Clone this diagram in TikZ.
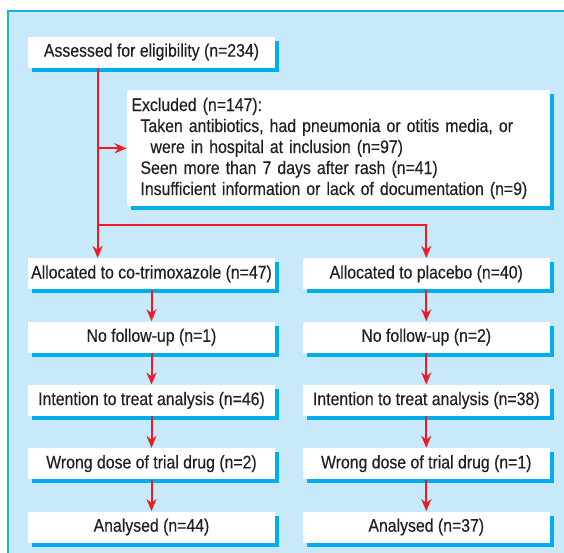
\documentclass[tikz,border=0pt]{standalone}
\usepackage{fontspec}
\setmainfont{Liberation Sans}[FakeStretch=0.87, FakeBold=0.3]
\usepackage{tikz}
\usetikzlibrary{arrows.meta, positioning, shadows, calc}
\usepackage{xcolor}
\definecolor{panelblue}{HTML}{C7E9F9}
\definecolor{edgecyan}{HTML}{1AAFE6}
\definecolor{shadecyan}{HTML}{00AEEF}
\definecolor{arrowred}{HTML}{ED1C24}
\definecolor{inkblack}{HTML}{231F20}

\begin{document}
\begin{tikzpicture}[
        x=1pt, y=1pt,
        font=\fontsize{9.1}{10.5}\selectfont,
        box/.style={rectangle, fill=white, text=inkblack, minimum width=123.5pt, minimum height=15.5pt, inner sep=0pt,
            drop shadow={shadow xshift=2pt, shadow yshift=-2pt, fill=shadecyan, opacity=1}},
        exclbox/.style={box, text width=207pt, inner xsep=2.25pt, minimum height=58pt, align=left},
        line/.style={draw=arrowred, line width=1pt},
        arrow/.style={line, -{Stealth[length=6pt, width=5pt]}}
    ]
        % panel
        \useasboundingbox (0,0) rectangle (282,-276.5);
        \fill[panelblue] (4,-5.5) rectangle (282,-276.5);
        \draw[edgecyan, line width=0.8pt] (4,-276.5) -- (4,-5.5) -- (282,-5.5);

        \node[box] (assess) at (75.75,-26) {Assessed for eligibility (n=234)};
        \node[exclbox, below right=11pt and 49.5pt of assess.south west] (excluded) {Excluded (n=147):\\
            \hspace*{4.5pt}Taken antibiotics, had pneumonia or otitis media, or\\
            \hspace*{9.5pt}were in hospital at inclusion (n=97)\\
            \hspace*{4.5pt}Seen more than 7 days after rash (n=41)\\
            \hspace*{4.5pt}Insufficient information or lack of documentation (n=9)};

        % co-trimoxazole arm
        \node[box, below=95pt of assess] (cotrim) {Allocated to co-trimoxazole (n=47)};
        \node[box, below=15.75pt of cotrim] (lostc) {No follow-up (n=1)};
        \node[box, below=15.75pt of lostc] (ittc) {Intention to treat analysis (n=46)};
        \node[box, below=15.75pt of ittc] (dosec) {Wrong dose of trial drug (n=2)};
        \node[box, below=15.75pt of dosec] (donec) {Analysed (n=44)};

        % placebo arm
        \node[box, right=13.5pt of cotrim] (placebo) {Allocated to placebo (n=40)};
        \node[box, below=15.75pt of placebo] (lostp) {No follow-up (n=2)};
        \node[box, below=15.75pt of lostp] (ittp) {Intention to treat analysis (n=38)};
        \node[box, below=15.75pt of ittp] (dosep) {Wrong dose of trial drug (n=1)};
        \node[box, below=15.75pt of dosep] (donep) {Analysed (n=37)};

        \coordinate (trunk) at ([xshift=35pt]assess.south west);
        \coordinate (split) at ($(trunk |- cotrim.north)+(0,16.5)$);

        \draw[arrow] (trunk) -- (trunk |- cotrim.north);
        \draw[arrow] (trunk |- excluded.west) -- (excluded.west);
        \draw[arrow] (split) -| (placebo.north);

        \draw[arrow] (cotrim) -- (lostc);
        \draw[arrow] (lostc) -- (ittc);
        \draw[arrow] (ittc) -- (dosec);
        \draw[arrow] (dosec) -- (donec);

        \draw[arrow] (placebo) -- (lostp);
        \draw[arrow] (lostp) -- (ittp);
        \draw[arrow] (ittp) -- (dosep);
        \draw[arrow] (dosep) -- (donep);

    \end{tikzpicture}
\end{document}
